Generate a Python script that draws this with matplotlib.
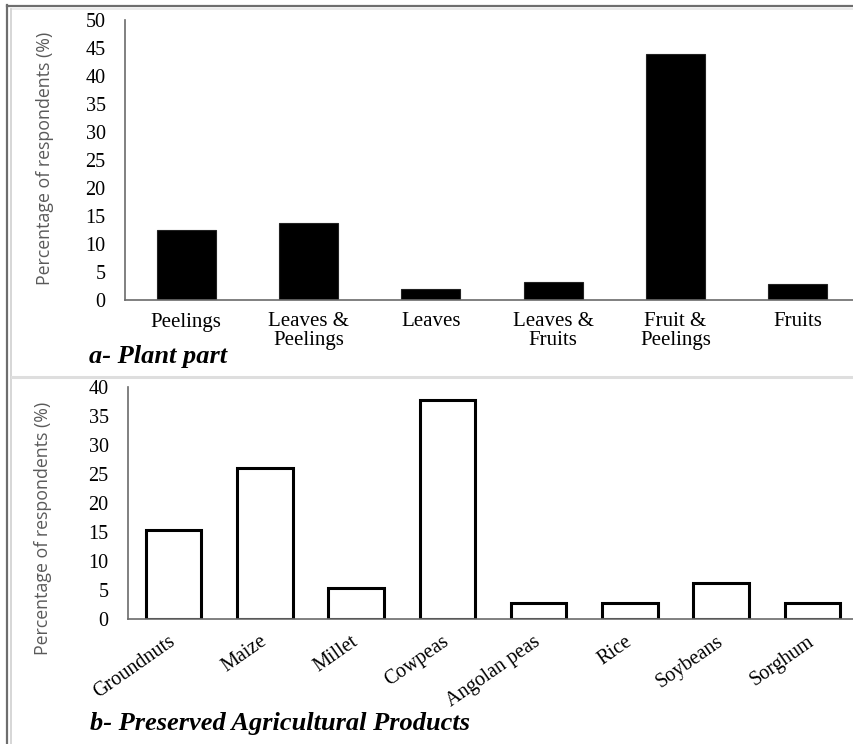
import matplotlib
matplotlib.use("Agg")
import matplotlib.pyplot as plt
from matplotlib.lines import Line2D
from matplotlib.transforms import ScaledTranslation

# plant parts used
part_labels = ["Peelings", "Leaves &\nPeelings", "Leaves", "Leaves &\nFruits", "Fruit &\nPeelings", "Fruits"]
part_pct = [12.5, 13.8, 2.0, 3.2, 43.9, 2.8]

# agricultural products preserved
product_labels = ["Groundnuts", "Maize", "Millet", "Cowpeas", "Angolan peas", "Rice", "Soybeans", "Sorghum"]
product_pct = [15.3, 26.1, 5.3, 37.8, 2.8, 2.8, 6.2, 2.8]

W, H = 854, 744
fig = plt.figure(figsize=(W / 100, H / 100), dpi=100)
fig.patch.set_facecolor("white")

serif = "Liberation Serif"
axis_grey = "#6b6b6b"
label_grey = "#5a5a5a"


def px_box(left, top, right, bottom):
    return [left / W, 1 - bottom / H, (right - left) / W, (bottom - top) / H]


def style_axes(ax):
    for s in ("top", "right"):
        ax.spines[s].set_visible(False)
    for s in ("left", "bottom"):
        ax.spines[s].set_color(axis_grey)
        ax.spines[s].set_linewidth(1.2)
    ax.tick_params(axis="both", length=0)
    ax.tick_params(axis="y", pad=14, labelsize=14.5)
    for t in ax.get_yticklabels():
        t.set_fontfamily(serif)
    ax.set_ylabel("Percentage of respondents (%)", fontsize=12.8, color=label_grey,
                  fontfamily="Open Sans")


# panel a
ax1 = fig.add_axes(px_box(125, 20, 859, 300))
ax1.bar(range(len(part_pct)), part_pct, width=0.48, color="black", edgecolor="#222222", linewidth=0.8)
ax1.set_xlim(-0.5, len(part_pct) - 0.5)
ax1.set_ylim(0, 50)
ax1.set_yticks(range(0, 51, 5))
ax1.set_xticks(range(len(part_labels)))
ax1.set_xticklabels(part_labels, fontfamily=serif, fontsize=15, linespacing=0.95)
ax1.tick_params(axis="x", pad=9)
style_axes(ax1)
ax1.yaxis.set_label_coords(54 / W, 1 - 158 / H, transform=fig.transFigure)
fig.text(89 / W, 1 - 363 / H, "a- Plant part", fontfamily=serif, fontsize=19,
         fontweight="bold", fontstyle="italic", va="baseline")

# panel b
ax2 = fig.add_axes(px_box(128, 387.3, 858, 619))
ax2.bar(range(len(product_pct)), product_pct, width=0.61, color="white", edgecolor="black", linewidth=2.2)
ax2.set_xlim(-0.5, len(product_pct) - 0.5)
ax2.set_ylim(0, 40)
ax2.set_yticks(range(0, 41, 5))
ax2.set_xticks(range(len(product_labels)))
ax2.set_xticklabels(product_labels, fontfamily=serif, fontsize=14.5, rotation=35,
                    ha="right", va="center", rotation_mode="anchor")
ax2.tick_params(axis="x", pad=15)
shift = ScaledTranslation(5 / 72, 0, fig.dpi_scale_trans)
for t in ax2.get_xticklabels():
    t.set_transform(t.get_transform() + shift)
style_axes(ax2)
ax2.yaxis.set_label_coords(52 / W, 1 - 528 / H, transform=fig.transFigure)
fig.text(90 / W, 1 - 730 / H, "b- Preserved Agricultural Products", fontfamily=serif, fontsize=19,
         fontweight="bold", fontstyle="italic", va="baseline")

# frame around the two panels
def fig_line(xs, ys, color, lw):
    fig.add_artist(Line2D([x / W for x in xs], [1 - y / H for y in ys],
                          color=color, linewidth=lw, transform=fig.transFigure))


fig_line([7.5, W], [5.5, 5.5], "#6e6e6e", 1.6)
fig_line([7.5, 7.5], [5, H], "#6e6e6e", 1.6)
fig_line([11.5, W], [9, 9], "#e6e6e6", 1.2)
fig_line([11.5, 11.5], [9, H], "#d0d0d0", 1.2)
fig_line([12, W], [377, 377], "#dedede", 2.2)

fig.savefig("out.png", dpi=100)
